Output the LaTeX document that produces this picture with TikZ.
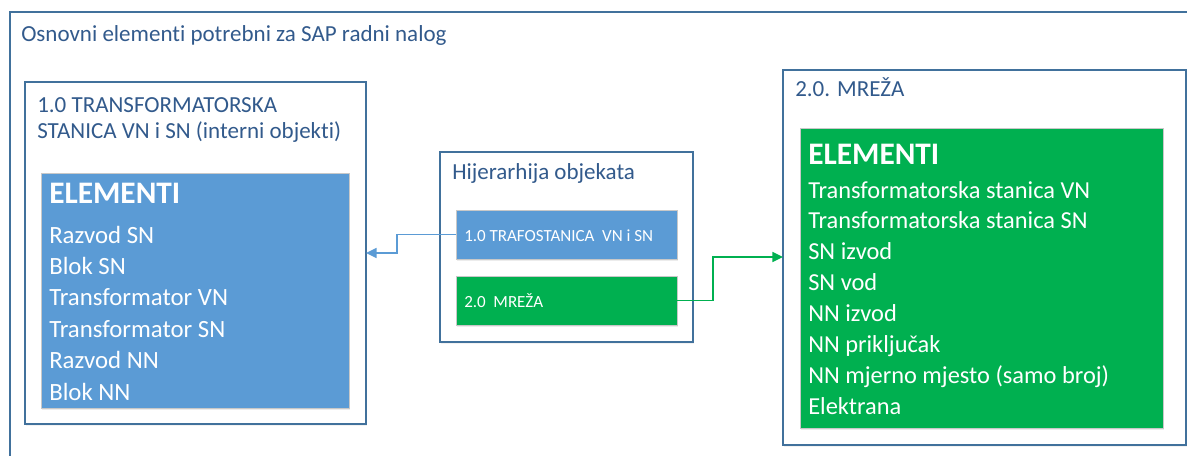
\documentclass[tikz,border=0pt]{standalone}
\usepackage{fontspec}
\setmainfont{Carlito}[Ligatures={NoCommon,NoContextual}]
\usetikzlibrary{arrows.meta,shadows}
\definecolor{frameblue}{RGB}{65,113,156}
\definecolor{titleblue}{RGB}{50,90,140}
\definecolor{boxblue}{RGB}{91,155,213}
\definecolor{boxgreen}{RGB}{0,176,80}
\definecolor{boxedge}{RGB}{200,200,200}
\begin{document}
\begin{tikzpicture}[x=0.75pt,y=-0.75pt,
  sz/.style 2 args={minimum width=#1*0.75pt,minimum height=#2*0.75pt},
  container/.style={draw=frameblue,line width=0.9pt,fill=white,anchor=north west,inner sep=0pt,outer sep=0pt,
    drop shadow={opacity=0.10,shadow xshift=1pt,shadow yshift=-1.5pt}},
  fillbox/.style={draw=boxedge,line width=0.5pt,fill=#1,anchor=north west,inner sep=0pt,outer sep=0pt,
    drop shadow={opacity=0.15,shadow xshift=1pt,shadow yshift=-1.5pt}},
  ttl/.style={anchor=base west,inner sep=0pt,text=titleblue,font=\fontsize{17.25}{20}\selectfont},
  head/.style={anchor=base west,inner sep=0pt,text=white,font=\fontsize{23.5}{28}\selectfont\bfseries},
  litem/.style={anchor=base west,inner sep=0pt,text=white,font=\fontsize{18.6}{22}\selectfont},
  ritem/.style={anchor=base west,inner sep=0pt,text=white,font=\fontsize{18.3}{22}\selectfont},
  small/.style={anchor=base west,inner sep=0pt,text=white,font=\fontsize{12.75}{15}\selectfont},
  tip/.style={-{Triangle[length=8pt,width=7.5pt]}},
]
\useasboundingbox (0,0) rectangle (1187,456);
% outer frame (open on right and bottom)
\draw[frameblue,line width=0.9pt] (10,460) -- (10,12) -- (1190,12);
\node[ttl] (t0) at (21,42) {Osnovni elementi potrebni za SAP radni nalog};

% containers
\node[container,sz={341}{342}] (cont1) at (25,82) {};
\node[container,sz={403}{375}] (cont2) at (783,70) {};
\node[container,sz={253}{190}] (hier) at (440,152) {};

% filled boxes
\node[fillbox=boxblue,sz={308}{235}] (lbox) at (41,173) {};
\node[fillbox=boxgreen,sz={363}{300}] (rbox) at (800,128) {};
\node[fillbox=boxblue,sz={221}{49}] (hb1) at (456,210) {};
\node[fillbox=boxgreen,sz={221}{49}] (hb2) at (456,276) {};

% titles
\node[ttl] (t1a) at (37,113) {1.0 TRANSFORMATORSKA};
\node[ttl] (t1b) at (37,138) {STANICA VN i SN (interni objekti)};
\node[ttl] (th) at (452,179) {Hijerarhija objekata};
\node[ttl] (t2) at (795,97) {2.0. MREŽA};

% left list
\node[head] (le) at (49,203) {ELEMENTI};
\foreach \t [count=\i] in {Razvod SN,Blok SN,Transformator VN,Transformator SN,Razvod NN,Blok NN}
  \node[litem] (li\i) at (49,{243+31.4*(\i-1)}) {\t};

% right list
\node[head] (re) at (808,164) {ELEMENTI};
\foreach \t [count=\i] in {Transformatorska stanica VN,Transformatorska stanica SN,SN izvod,SN vod,NN izvod,NN priključak,NN mjerno mjesto (samo broj),Elektrana}
  \node[ritem] (ri\i) at (808,{198+30.9*(\i-1)}) {\t};

% hierarchy labels
\node[small] (hb1t) at (464,241) {1.0 TRAFOSTANICA\ \ VN i SN};
\node[small] (hb2t) at (464,307) {2.0\ \ MREŽA};

% connectors
\coordinate (bj) at (397,253);
\coordinate (gj) at (713,257);
\draw[boxblue,line width=1.3pt,tip] (hb1.west) -| (bj) -- (bj -| cont1.east);
\draw[boxgreen,line width=1.3pt,tip] (hb2.east) -| (gj) -- (gj -| cont2.west);
\end{tikzpicture}
\end{document}
